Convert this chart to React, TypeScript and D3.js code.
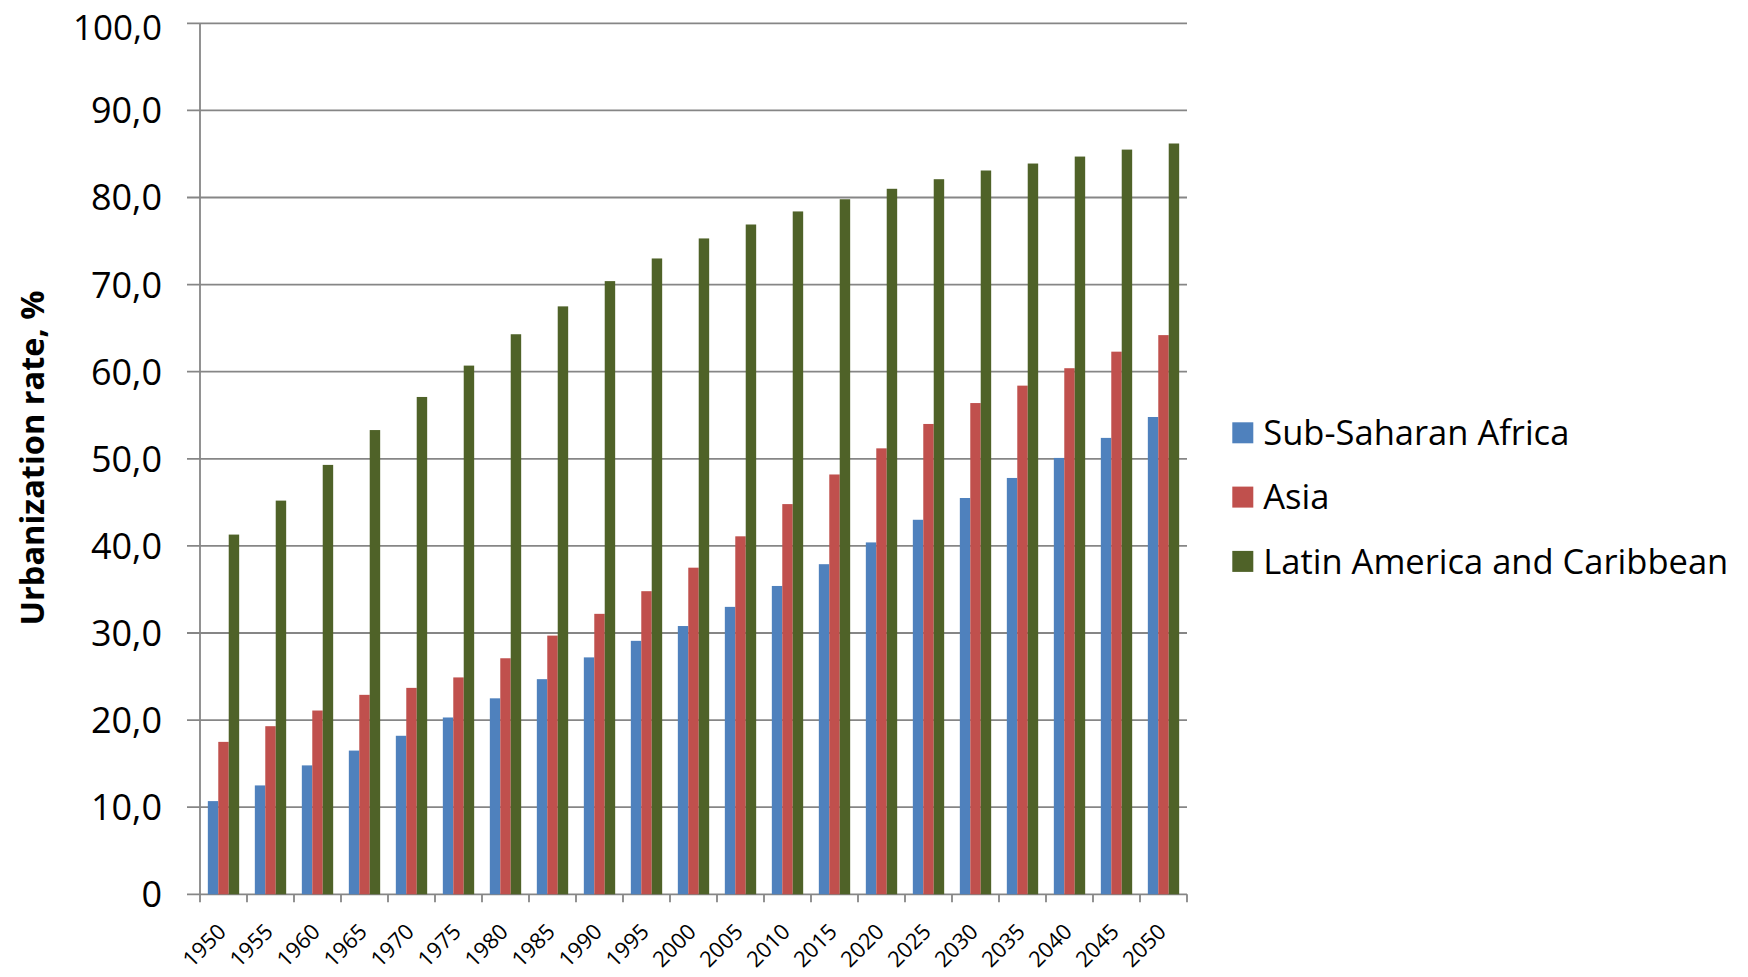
import React from "react";
import * as d3 from "d3";

const years = ["1950","1955","1960","1965","1970","1975","1980","1985","1990","1995","2000","2005","2010","2015","2020","2025","2030","2035","2040","2045","2050"];
const seriesNames = ["Sub-Saharan Africa", "Asia", "Latin America and Caribbean"];
const ssa = [10.7,12.5,14.8,16.5,18.2,20.3,22.5,24.7,27.2,29.1,30.8,33.0,35.4,37.9,40.4,43.0,45.5,47.8,50.1,52.4,54.8];
const asia = [17.5,19.3,21.1,22.9,23.7,24.9,27.1,29.7,32.2,34.8,37.5,41.1,44.8,48.2,51.2,54.0,56.4,58.4,60.4,62.3,64.2];
const lac = [41.3,45.2,49.3,53.3,57.1,60.7,64.3,67.5,70.4,73.0,75.3,76.9,78.4,79.8,81.0,82.1,83.1,83.9,84.7,85.5,86.2];
const yTicks = [0,10,20,30,40,50,60,70,80,90,100];
const colors = ["#4F81BD", "#C0504D", "#4F6228"];

const W = 1748, H = 977;
const plot = { left: 200, right: 1187, top: 23.3, bottom: 894.3 };
const FONT = "'Open Sans', sans-serif";

export default function App() {
  const seriesData = [ssa, asia, lac];
  const x0 = d3.scaleBand<string>().domain(years).range([plot.left, plot.right]).paddingInner(1 / 3).paddingOuter(1 / 6);
  const x1 = d3.scaleBand<number>().domain([0, 1, 2]).range([0, x0.bandwidth()]);
  const y = d3.scaleLinear().domain([0, 100]).range([plot.bottom, plot.top]);
  const step = x0.step();
  const boundaries = d3.range(years.length + 1).map((i) => plot.left + i * step);
  const fmt = (v: number) => (v === 0 ? "0" : v.toFixed(1).replace(".", ","));
  const grid = "#868686";

  return (
    <svg width={W} height={H} style={{ position: "absolute", left: 0, top: 0, background: "#fff" }} fontFamily={FONT}>
      {yTicks.map((t) => (
        <g key={t}>
          <line x1={plot.left - 13} x2={plot.right} y1={y(t)} y2={y(t)} stroke={grid} strokeWidth={1.8} />
          <text x={162} y={Math.max(y(t), 27)} dy="0.36em" textAnchor="end" fontSize={t === 100 ? 35 : 36} fill="#000">{fmt(t)}</text>
        </g>
      ))}
      <line x1={plot.left} x2={plot.left} y1={plot.top} y2={plot.bottom} stroke={grid} strokeWidth={1.8} />
      {boundaries.map((bx, i) => (
        <line key={i} x1={bx} x2={bx} y1={plot.bottom} y2={plot.bottom + 8} stroke={grid} strokeWidth={1.8} />
      ))}
      {years.map((yr, i) => (
        <g key={yr}>
          {seriesData.map((s, k) => (
            <rect key={k} x={(x0(yr) as number) + (x1(k) as number)} y={y(s[i])} width={x1.bandwidth()} height={plot.bottom - y(s[i])} fill={colors[k]} />
          ))}
        </g>
      ))}
      {years.map((yr) => {
        const cx = (x0(yr) as number) + x0.bandwidth() / 2 + 4;
        return (
          <text key={yr} transform={`translate(${cx},${933}) rotate(-45)`} textAnchor="end" fontSize={22} fill="#000">{yr}</text>
        );
      })}
      <text transform={`translate(44,458) rotate(-90)`} textAnchor="middle" fontSize={32.5} fontWeight="bold" fill="#000">Urbanization rate, %</text>
      {seriesNames.map((n, k) => (
        <g key={n}>
          <rect x={1232.3} y={422.3 + k * 64.3} width={21} height={21} fill={colors[k]} />
          <text x={1263.3} y={445 + k * 64.3} fontSize={34.5} fill="#000">{n}</text>
        </g>
      ))}
    </svg>
  );
}
